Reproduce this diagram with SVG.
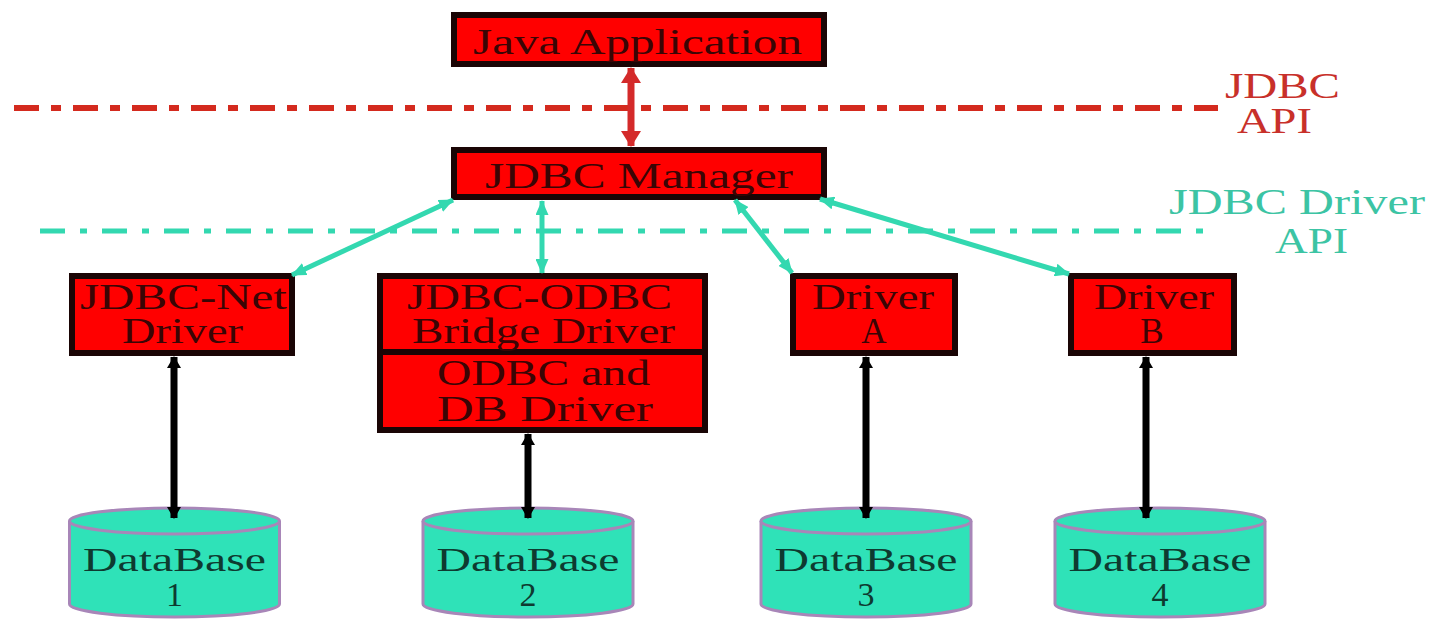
<svg xmlns="http://www.w3.org/2000/svg" width="1435" height="619" viewBox="0 0 1435 619">
  <style>
    .box { fill: #ff0000; stroke: #1a0505; stroke-width: 6; }
    .boxtxt { font-family: "Liberation Serif", "Times New Roman", serif; font-size: 35px; fill: #3a0505; }
    .redlbl { font-family: "Liberation Serif", "Times New Roman", serif; font-size: 35px; fill: #c8302a; }
    .cyanlbl { font-family: "Liberation Serif", "Times New Roman", serif; font-size: 36px; fill: #3cc4a4; }
    .dbtxt { font-family: "Liberation Serif", "Times New Roman", serif; font-size: 34px; fill: #0e3a30; }
    .cyl { fill: #2fe2b8; stroke: #a886b8; stroke-width: 3; }
    .apiRed { stroke: #d42a1e; stroke-width: 6; stroke-dasharray: 25 12 10 12; fill: none; }
    .apiCyan { stroke: #33d8b0; stroke-width: 5; stroke-dasharray: 25 15 7 15; fill: none; }
    .linkRed { stroke: #d42a2a; stroke-width: 7; fill: none; }
    .linkCyan { stroke: #33d8b0; stroke-width: 5; fill: none; }
    .linkBlack { stroke: #000; stroke-width: 7; fill: none; }
  </style>
  <defs>
    <marker id="headRed" markerUnits="userSpaceOnUse" markerWidth="16" markerHeight="22" viewBox="0 0 16 22" refX="15" refY="11" orient="auto-start-reverse">
      <path d="M0,1 L16,11 L0,21 Z" fill="#d42a2a"/>
    </marker>
    <marker id="headCyan" markerUnits="userSpaceOnUse" markerWidth="15" markerHeight="13" viewBox="0 0 15 13" refX="14" refY="6.5" orient="auto-start-reverse">
      <path d="M0,0 L15,6.5 L0,13 Z" fill="#33d8b0"/>
    </marker>
    <marker id="headBlack" markerUnits="userSpaceOnUse" markerWidth="12" markerHeight="16" viewBox="0 0 12 16" refX="11" refY="8" orient="auto-start-reverse">
      <path d="M0,1 L12,8 L0,15 Z" fill="#000"/>
    </marker>
    <g id="cylinder">
      <path class="cyl" d="M-105,0 V83 A105,13 0 0 0 105,83 V0"/>
      <ellipse class="cyl" cx="0" cy="0" rx="105" ry="13"/>
    </g>
  </defs>

  <rect width="1435" height="619" fill="#ffffff"/>

  <!-- API boundary lines and their labels -->
  <g id="api-boundaries">
    <line class="apiRed" x1="14" y1="108" x2="1218" y2="108"/>
    <text class="redlbl" x="1225" y="98" textLength="115" lengthAdjust="spacingAndGlyphs">JDBC</text>
    <text class="redlbl" x="1237" y="133" textLength="75" lengthAdjust="spacingAndGlyphs">API</text>
    <line class="apiCyan" x1="40" y1="231" x2="1216" y2="231"/>
    <text class="cyanlbl" x="1169" y="214" textLength="256" lengthAdjust="spacingAndGlyphs">JDBC Driver</text>
    <text class="cyanlbl" x="1275" y="253" textLength="73" lengthAdjust="spacingAndGlyphs">API</text>
  </g>

  <!-- application layer -->
  <g id="java-application">
    <rect class="box" x="454" y="15" width="370" height="49"/>
    <text class="boxtxt" x="473" y="54" font-size="37" textLength="329" lengthAdjust="spacingAndGlyphs">Java Application</text>
  </g>
  <g id="jdbc-manager">
    <rect class="box" x="454" y="150" width="370" height="47"/>
    <text class="boxtxt" x="485" y="188" font-size="38" textLength="308" lengthAdjust="spacingAndGlyphs">JDBC Manager</text>
  </g>

  <!-- drivers -->
  <g id="jdbc-net-driver">
    <rect class="box" x="72" y="276" width="220" height="77"/>
    <text class="boxtxt" x="80" y="309" textLength="207" lengthAdjust="spacingAndGlyphs">JDBC-Net</text>
    <text class="boxtxt" x="122" y="343" textLength="121" lengthAdjust="spacingAndGlyphs">Driver</text>
  </g>
  <g id="jdbc-odbc-bridge">
    <rect class="box" x="380" y="276" width="325" height="154"/>
    <line x1="380" y1="352" x2="705" y2="352" stroke="#1a0505" stroke-width="6"/>
    <text class="boxtxt" x="407" y="309" textLength="265" lengthAdjust="spacingAndGlyphs">JDBC-ODBC</text>
    <text class="boxtxt" x="412" y="343" textLength="263" lengthAdjust="spacingAndGlyphs">Bridge Driver</text>
    <text class="boxtxt" x="437" y="385" textLength="213" lengthAdjust="spacingAndGlyphs">ODBC and</text>
    <text class="boxtxt" x="437" y="421" textLength="216" lengthAdjust="spacingAndGlyphs">DB Driver</text>
  </g>
  <g id="driver-a">
    <rect class="box" x="793" y="276" width="162" height="77"/>
    <text class="boxtxt" x="812" y="309" textLength="122" lengthAdjust="spacingAndGlyphs">Driver</text>
    <text class="boxtxt" x="874" y="343" text-anchor="middle">A</text>
  </g>
  <g id="driver-b">
    <rect class="box" x="1071" y="276" width="163" height="77"/>
    <text class="boxtxt" x="1094" y="309" textLength="120" lengthAdjust="spacingAndGlyphs">Driver</text>
    <text class="boxtxt" x="1152" y="343" text-anchor="middle">B</text>
  </g>

  <!-- databases -->
  <g id="database-1" transform="translate(174.5,521)">
    <use href="#cylinder"/>
    <text class="dbtxt" x="-91.5" y="50" textLength="183" lengthAdjust="spacingAndGlyphs">DataBase</text>
    <text class="dbtxt" x="0" y="85" text-anchor="middle">1</text>
  </g>
  <g id="database-2" transform="translate(528,521)">
    <use href="#cylinder"/>
    <text class="dbtxt" x="-91.5" y="50" textLength="183" lengthAdjust="spacingAndGlyphs">DataBase</text>
    <text class="dbtxt" x="0" y="85" text-anchor="middle">2</text>
  </g>
  <g id="database-3" transform="translate(866,521)">
    <use href="#cylinder"/>
    <text class="dbtxt" x="-91.5" y="50" textLength="183" lengthAdjust="spacingAndGlyphs">DataBase</text>
    <text class="dbtxt" x="0" y="85" text-anchor="middle">3</text>
  </g>
  <g id="database-4" transform="translate(1160,521)">
    <use href="#cylinder"/>
    <text class="dbtxt" x="-91.5" y="50" textLength="183" lengthAdjust="spacingAndGlyphs">DataBase</text>
    <text class="dbtxt" x="0" y="85" text-anchor="middle">4</text>
  </g>

  <!-- connectors, drawn on top so the arrowheads sit over the node edges -->
  <g id="connectors">
    <line class="linkRed" x1="631" y1="68" x2="631" y2="146" marker-start="url(#headRed)" marker-end="url(#headRed)"/>
    <line class="linkCyan" x1="453" y1="200" x2="292" y2="275" marker-start="url(#headCyan)" marker-end="url(#headCyan)"/>
    <line class="linkCyan" x1="542" y1="201" x2="542" y2="273" marker-start="url(#headCyan)" marker-end="url(#headCyan)"/>
    <line class="linkCyan" x1="735" y1="200" x2="792" y2="273" marker-start="url(#headCyan)" marker-end="url(#headCyan)"/>
    <line class="linkCyan" x1="820" y1="199" x2="1069" y2="274" marker-start="url(#headCyan)" marker-end="url(#headCyan)"/>
    <line class="linkBlack" x1="174" y1="357" x2="174" y2="518" marker-start="url(#headBlack)" marker-end="url(#headBlack)"/>
    <line class="linkBlack" x1="528" y1="434" x2="528" y2="518" marker-start="url(#headBlack)" marker-end="url(#headBlack)"/>
    <line class="linkBlack" x1="866" y1="357" x2="866" y2="518" marker-start="url(#headBlack)" marker-end="url(#headBlack)"/>
    <line class="linkBlack" x1="1146" y1="357" x2="1146" y2="518" marker-start="url(#headBlack)" marker-end="url(#headBlack)"/>
  </g>
</svg>
